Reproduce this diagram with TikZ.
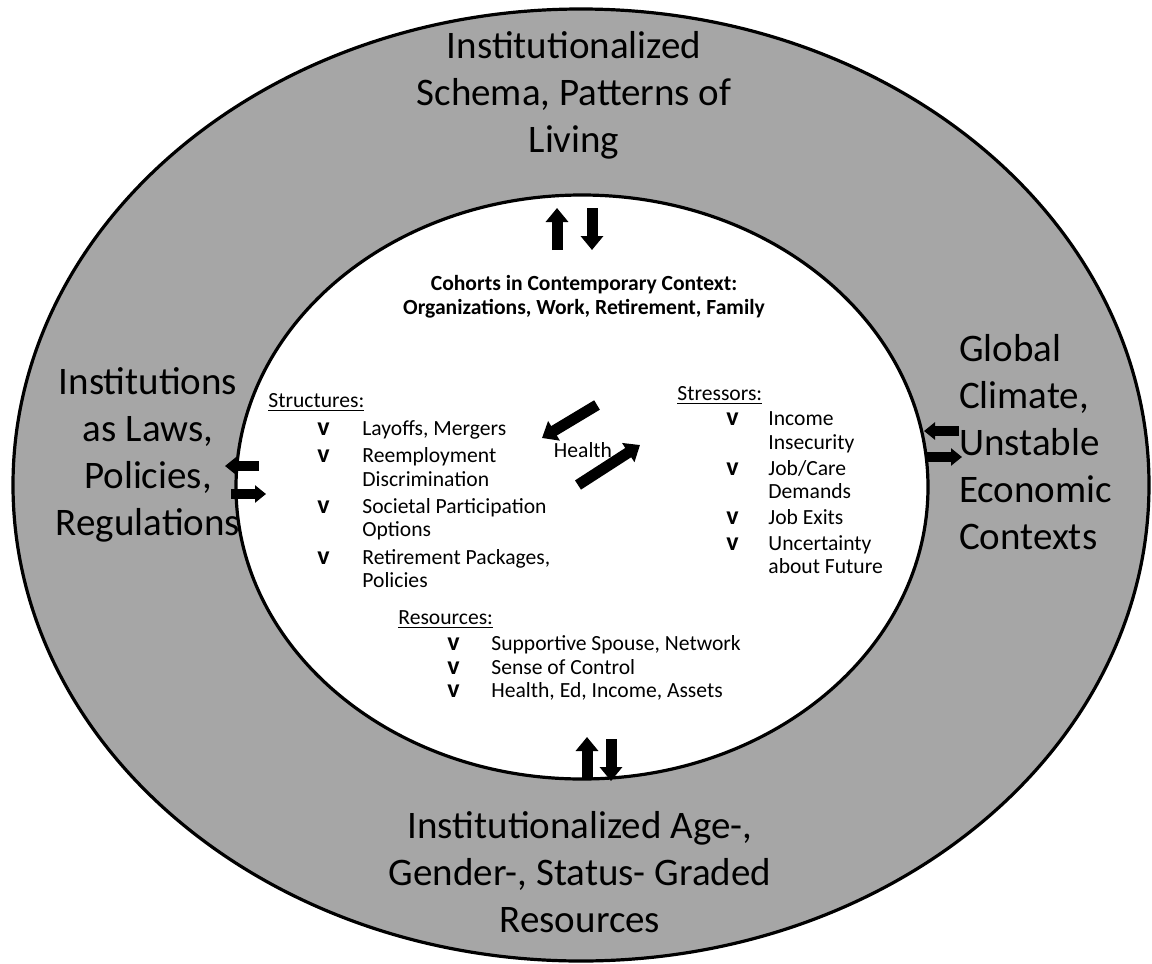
\documentclass[tikz,border=0pt]{standalone}
\usepackage{fontspec}
\setmainfont{Carlito}
\usetikzlibrary{arrows.meta}

\newcommand{\chk}{{\fontsize{13}{11.7}\selectfont\bfseries v}}

\begin{document}
\begin{tikzpicture}[x=0.5pt,y=-0.5pt,
        bigtext/.style={font=\fontsize{19.5}{23.5}\selectfont, align=center},
        smalltext/.style={font=\fontsize{10.8}{11.7}\selectfont, inner sep=0pt},
        boldtext/.style={font=\fontsize{10.8}{12}\selectfont\bfseries, inner sep=0pt, align=center},
        blockarrow/.style={line width=5.5pt, -{Triangle[length=7pt,width=11pt]}},
        sidearrow/.style={line width=5pt, -{Triangle[length=5.5pt,width=8.5pt]}}]
        % Define colors
        \definecolor{ringcolor}{HTML}{A6A6A6} % gray ring

        \useasboundingbox (0,0) rectangle (1152,964);

        % Draw rings
        \filldraw[fill=ringcolor, line width=1.6pt] (581,485) ellipse [x radius=568, y radius=476];
        \filldraw[fill=white, line width=1.6pt] (582,487) ellipse [x radius=346, y radius=292];

        % Outer labels
        \node[bigtext] (schema) at (574,95) {Institutionalized\\Schema, Patterns of\\Living};
        \node[bigtext] (laws) at (148,455) {Institutions\\as Laws,\\Policies,\\Regulations};
        \node[bigtext, align=left, anchor=west] (climate) at (952,442) {Global\\Climate,\\Unstable\\Economic\\Contexts};
        \node[bigtext] (graded) at (580,872) {Institutionalized Age-,\\Gender-, Status- Graded\\Resources};

        % Inner labels
        \node[boldtext] (cohorts) at (584,297) {Cohorts in Contemporary Context:\\Organizations, Work, Retirement, Family};
        \node[smalltext] (health) at (583,450) {Health};

        \node[smalltext, anchor=west] (structures) at (268,403) {\underline{Structures:}};
        \node[smalltext, anchor=north west] (structlist) at (317,419) {%
            \begin{tabular}{@{}p{22.5pt}@{}l@{}}
            \chk & Layoffs, Mergers\\[1.9pt]
            \chk & Reemployment\\
                 & Discrimination\\[1.9pt]
            \chk & Societal Participation\\
                 & Options\\[1.9pt]
            \chk & Retirement Packages,\\
                 & Policies
            \end{tabular}};

        \node[smalltext, anchor=west] (stressors) at (677,396) {\underline{Stressors:}};
        \node[smalltext, anchor=north west] (stresslist) at (726,409) {%
            \begin{tabular}{@{}p{21pt}@{}l@{}}
            \chk & Income\\
                 & Insecurity\\[1.3pt]
            \chk & Job/Care\\
                 & Demands\\[1.3pt]
            \chk & Job Exits\\[1.3pt]
            \chk & Uncertainty\\
                 & about Future
            \end{tabular}};

        \node[smalltext, anchor=west] (resources) at (398,620) {\underline{Resources:}};
        \node[smalltext, anchor=north west] (reslist) at (447,634) {%
            \begin{tabular}{@{}p{22pt}@{}l@{}}
            \chk & Supportive Spouse, Network\\
            \chk & Sense of Control\\
            \chk & Health, Ed, Income, Assets
            \end{tabular}};

        % Draw arrows
        \draw[blockarrow] (557,250) -- (557,208);
        \draw[blockarrow] (592,208) -- (592,250);
        \draw[blockarrow] (587,779) -- (587,737);
        \draw[blockarrow] (611,739) -- (611,781);
        \draw[blockarrow] (597,405) -- (542,438);
        \draw[blockarrow] (578,485) -- (640,445);
        \draw[sidearrow] (259,466) -- (225,466);
        \draw[sidearrow] (231,494) -- (266,494);
        \draw[sidearrow] (959,431) -- (924,431);
        \draw[sidearrow] (925,457) -- (962,457);
    \end{tikzpicture}
\end{document}
